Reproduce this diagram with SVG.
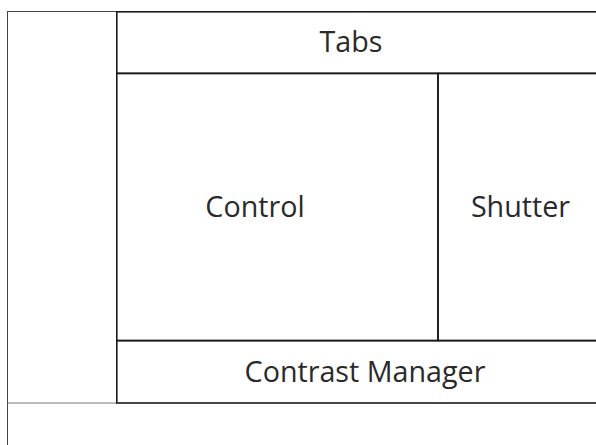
<svg xmlns="http://www.w3.org/2000/svg" width="596" height="445" viewBox="0 0 596 445">
<style>
.frame{fill:#fff;stroke:#444;stroke-width:1}
.panel{fill:none;stroke:#1a1a1a;stroke-width:1.6}
.lbl{font-family:"Open Sans","Noto Sans",sans-serif;font-size:28.7px;font-weight:400;fill:#2a2a2a;text-anchor:middle}
</style>
<rect width="596" height="445" fill="#fff"/>
<g id="frame">
<rect class="frame" x="7.5" y="11.5" width="620" height="460"/>
<line x1="7.5" y1="403" x2="117" y2="403" stroke="#777" stroke-width="1"/>
</g>
<g id="tabs">
<rect class="panel" x="116.8" y="11.8" width="500" height="61.6"/>
<text class="lbl" x="351" y="52">Tabs</text>
</g>
<g id="control">
<rect class="panel" x="116.8" y="73.4" width="321.2" height="267.2"/>
<text class="lbl" x="255" y="217">Control</text>
</g>
<g id="shutter">
<rect class="panel" x="438" y="73.4" width="200" height="267.2"/>
<text class="lbl" x="520.5" y="217">Shutter</text>
</g>
<g id="contrast-manager">
<rect class="panel" x="116.8" y="340.6" width="500" height="62.4"/>
<text class="lbl" x="365" y="382">Contrast Manager</text>
</g>
<g id="connectors"/>
</svg>
